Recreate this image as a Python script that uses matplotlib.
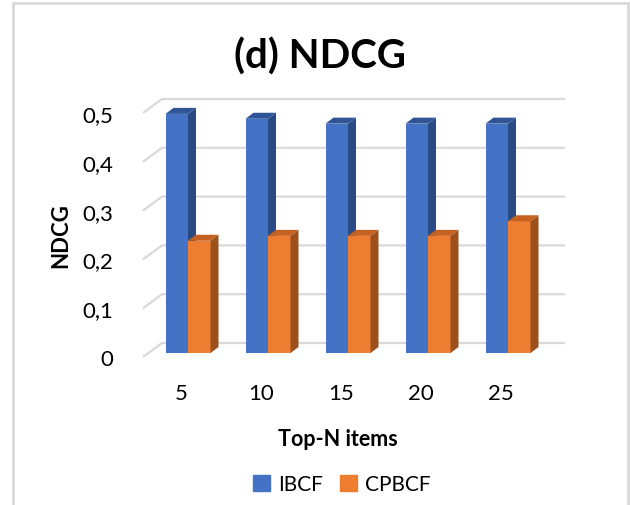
import numpy as np
import matplotlib.pyplot as plt
from matplotlib.patches import Polygon, Rectangle, Patch

plt.rcParams['font.family'] = ['Lato', 'DejaVu Sans']

top_n = ['5', '10', '15', '20', '25']
ibcf = [0.49, 0.48, 0.47, 0.47, 0.47]
cpbcf = [0.23, 0.24, 0.24, 0.24, 0.27]
yticks = [0, 0.1, 0.2, 0.3, 0.4, 0.5]
ytick_labels = ['0', '0,1', '0,2', '0,3', '0,4', '0,5']

W, H = 630, 506
fig = plt.figure(figsize=(W / 100, H / 100), dpi=100)

# plot box in pixels: x 130..580, y 90..370
ax = fig.add_axes([130 / W, (H - 370) / H, 450 / W, 280 / H])
sx = 1 / 80        # one category = 80 px
sy = 0.5 / 244     # 0.5 = 244 px
ax.set_xlim(-58 * sx, 392 * sx)
ax.set_ylim(-16 * sy, 264 * sy)
for s in ax.spines.values():
    s.set_visible(False)

# walls: front edge, back edge (pixels relative to bar base)
x_front, x_back, x_right = -45 * sx, -26 * sx, 377 * sx
y_front, y_back = -4 * sy, 10 * sy
for t in yticks:
    ax.plot([x_front, x_back, x_right], [t + y_front, t + y_back, t + y_back],
            color='#d9d9d9', lw=1.6, zorder=1, solid_capstyle='butt')

# bars with side and top faces
w = 22.5 * sx
dx, dy = 8 * sx, 6 * sy
x = np.arange(len(top_n))


def box(xc, h, front, top, side, z):
    ax.bar(xc, h, w, color=front, zorder=z)
    l, r = xc - w / 2, xc + w / 2
    ax.add_patch(Polygon([(r, 0), (r + dx, dy), (r + dx, h + dy), (r, h)],
                         closed=True, fc=side, ec='none', zorder=z + 0.1))
    ax.add_patch(Polygon([(l, h), (l + dx, h + dy), (r + dx, h + dy), (r, h)],
                         closed=True, fc=top, ec='none', zorder=z + 0.1))


for i in x:
    box(i - w / 2, ibcf[i], '#4472c4', '#2f5597', '#2a4a85', 2)
    box(i + w / 2, cpbcf[i], '#ed7d31', '#c5621f', '#9c501b', 3)

ax.set_yticks(np.array(yticks) + y_front, ytick_labels, fontsize=16)
ax.set_xticks(x - 7 * sx, top_n, fontsize=16)
ax.tick_params(length=0)
ax.tick_params(axis='y', pad=12)
ax.tick_params(axis='x', pad=10)

ax.set_xlabel('Top-N items', fontsize=15.5, fontweight='bold')
ax.xaxis.set_label_coords((338 - 130) / 450, (370 - 429) / 280)
ax.set_ylabel('NDCG', fontsize=16, fontweight='bold')
ax.yaxis.set_label_coords((71 - 130) / 450, (370 - 236) / 280)

fig.text(320 / W, 1 - 57 / H, '(d) NDCG', ha='center', va='center',
         fontsize=29, fontweight='bold')

handles = [Patch(color='#4472c4', label='IBCF'),
           Patch(color='#ed7d31', label='CPBCF')]
fig.legend(handles=handles, loc='center', bbox_to_anchor=(342 / W, 1 - 485 / H),
           ncol=2, frameon=False, fontsize=15, handlelength=0.8, handleheight=0.8,
           handletextpad=0.4, columnspacing=0.8)

# light frame around the chart
fig.add_artist(Rectangle((12.5 / W, -0.05), (628 - 12.5) / W, 1.05 - 4 / H,
                         transform=fig.transFigure, fill=False,
                         ec='#d9d9d9', lw=2))

fig.savefig('out.png', dpi=100)
